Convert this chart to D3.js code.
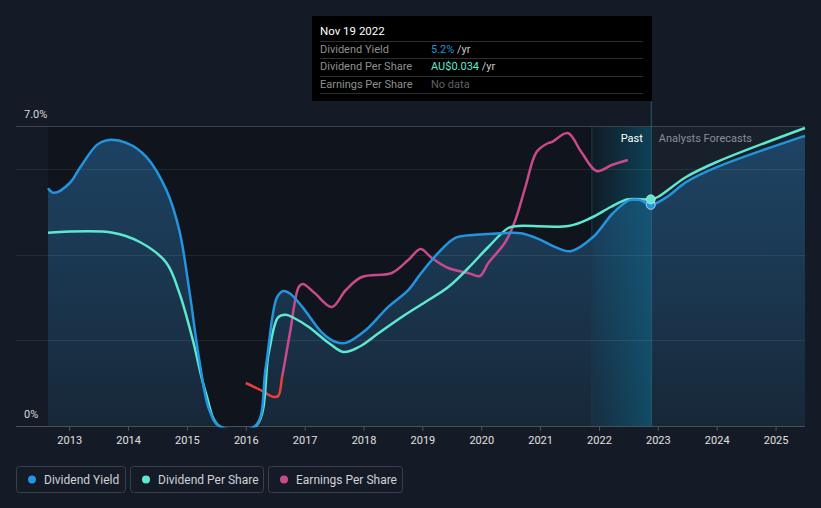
<!DOCTYPE html>
<html><head><meta charset="utf-8">
<script src="https://cdn.jsdelivr.net/npm/d3@7"></script>
<style>
html,body{margin:0;padding:0;background:#151b26;}
svg{display:block;font-family:Roboto,"Open Sans",sans-serif;}
</style></head>
<body>
<svg id="c" width="821" height="508"></svg>
<script>
// ---- data ----
const yearTicks = [2013,2014,2015,2016,2017,2018,2019,2020,2021,2022,2023,2024,2025];
const yLabels = [{v:7,t:"7.0%"},{v:0,t:"0%"}];
const gridValues = [0,2,4,6,7];
// Dividend Yield (%)  [year, value]
const dividendYield = [[2012.64,5.55],[2012.74,5.44],[2013.01,5.67],[2013.18,6.02],[2013.47,6.56],[2013.64,6.67],[2013.98,6.60],[2014.31,6.28],[2014.65,5.51],[2014.87,4.57],[2015.04,3.17],[2015.21,1.54],[2015.38,0.37],[2015.55,0],[2016.16,0],[2016.34,1.38],[2016.53,3.0],[2016.64,3.15],[2016.76,3.08],[2016.96,2.78],[2017.3,2.17],[2017.53,1.96],[2017.7,1.94],[2018.04,2.24],[2018.42,2.78],[2018.76,3.17],[2018.98,3.57],[2019.27,4.04],[2019.56,4.39],[2019.9,4.46],[2020.34,4.5],[2020.68,4.5],[2021.0,4.35],[2021.25,4.18],[2021.52,4.08],[2021.9,4.41],[2022.24,4.97],[2022.52,5.27],[2022.7,5.27],[2022.88,5.16],[2023.15,5.34],[2023.48,5.69],[2024.0,6.04],[2025.5,6.77]];
// Dividend Per Share (AU$)
const dividendPerShare = [[2012.64,0.029],[2013.74,0.029],[2014.2,0.0276],[2014.65,0.0245],[2014.87,0.020],[2015.1,0.0129],[2015.32,0.005],[2015.55,0],[2016.17,0],[2016.39,0.011],[2016.55,0.0163],[2016.68,0.0167],[2016.82,0.0162],[2017.07,0.01485],[2017.41,0.01245],[2017.66,0.0111],[2017.92,0.01185],[2018.26,0.01395],[2018.65,0.01635],[2019.05,0.0186],[2019.44,0.02085],[2019.78,0.0237],[2020.12,0.02685],[2020.46,0.0297],[2020.63,0.030],[2021.48,0.030],[2021.86,0.0312],[2022.2,0.03285],[2022.49,0.034],[2022.88,0.034],[2023.0,0.03435],[2023.48,0.03735],[2024.0,0.0396],[2025.5,0.0447]];
// Earnings Per Share (AU$)
const earningsPerShare = [[2016.0,-0.0014],[2016.25,-0.0028],[2016.47,-0.0042],[2016.55,-0.004],[2016.62,0.0],[2016.75,0.0086],[2016.9,0.0178],[2016.97,0.0184],[2017.17,0.0166],[2017.46,0.0138],[2017.7,0.0172],[2017.97,0.0198],[2018.48,0.0206],[2018.76,0.0232],[2018.97,0.0254],[2019.16,0.0236],[2019.44,0.0216],[2019.78,0.0206],[2019.98,0.0200],[2020.12,0.0226],[2020.41,0.0268],[2020.58,0.0312],[2020.75,0.0378],[2020.94,0.0448],[2021.14,0.0466],[2021.2,0.0468],[2021.47,0.0486],[2021.7,0.0448],[2021.96,0.041],[2022.22,0.0422],[2022.49,0.0432]];
const hoverYear = 2022.88;
const pastStart = 2021.88;
const tooltipDate = "Nov 19 2022";
const tooltipRows = [
  {label:"Dividend Yield", value:"5.2%", unit:" /yr", color:"#2394df"},
  {label:"Dividend Per Share", value:"AU$0.034", unit:" /yr", color:"#5ee8cf"},
  {label:"Earnings Per Share", value:"No data", unit:"", color:"#5d6168"}
];
const legendItems = [
  {name:"Dividend Yield", color:"#2394df"},
  {name:"Dividend Per Share", color:"#5ee8cf"},
  {name:"Earnings Per Share", color:"#c94a8a"}
];

// ---- layout ----
const svg = d3.select("#c");
const plotL = 48, plotR = 805, plotT = 126, plotB = 426, gridL = 16;
const x = d3.scaleLinear().domain([2012.64, 2025.5]).range([plotL, plotR]);
const y = d3.scaleLinear().domain([0, 7]).range([plotB, plotT]);
const yDps = d3.scaleLinear().domain([0, 0.045]).range([plotB, plotT]);
const yEps = d3.scaleLinear().domain([-0.01, 0.05]).range([plotB, plotT]);
const curve = d3.curveCatmullRom.alpha(0.5);

const defs = svg.append("defs");
const ag = defs.append("linearGradient").attr("id","areaG").attr("x1",0).attr("y1",0).attr("x2",0).attr("y2",1);
ag.append("stop").attr("offset","0%").attr("stop-color","#1f4a6e").attr("stop-opacity",0.85);
ag.append("stop").attr("offset","100%").attr("stop-color","#172737").attr("stop-opacity",1);
const bg = defs.append("linearGradient").attr("id","bandG").attr("x1",0).attr("y1",0).attr("x2",1).attr("y2",0);
bg.append("stop").attr("offset","0%").attr("stop-color","#0c6e90").attr("stop-opacity",0.08);
bg.append("stop").attr("offset","100%").attr("stop-color","#0c6e90").attr("stop-opacity",0.5);
defs.append("clipPath").attr("id","plotClip").append("rect").attr("x",plotL-4).attr("y",0).attr("width",plotR-plotL+8).attr("height",plotB+1.2);

// background regions
svg.append("rect").attr("x",0).attr("y",0).attr("width",821).attr("height",508).attr("fill","#151b26");
svg.append("rect").attr("x",plotL).attr("y",plotT).attr("width",x(hoverYear)-plotL).attr("height",plotB-plotT).attr("fill","#10141c");
svg.append("rect").attr("x",x(hoverYear)).attr("y",plotT).attr("width",plotR-x(hoverYear)).attr("height",plotB-plotT).attr("fill","#18202c");

// area under dividend yield
const area = d3.area().x(d=>x(d[0])).y0(plotB).y1(d=>Math.min(plotB, y(d[1]))).curve(curve);
svg.append("g").attr("clip-path","url(#plotClip)").append("path").datum(dividendYield).attr("d",area).attr("fill","url(#areaG)");

// band
svg.append("rect").attr("x",x(pastStart)).attr("y",plotT).attr("width",x(hoverYear)-x(pastStart)).attr("height",plotB-plotT).attr("fill","url(#bandG)");
svg.append("line").attr("x1",x(pastStart)).attr("x2",x(pastStart)).attr("y1",plotT).attr("y2",plotB).attr("stroke","#1e3a4c").attr("stroke-width",1);

// grid
svg.append("g").selectAll("line").data(gridValues.filter(v=>v>0)).join("line")
  .attr("x1",gridL).attr("x2",plotR).attr("y1",d=>Math.round(y(d))+0.5).attr("y2",d=>Math.round(y(d))+0.5)
  .attr("stroke",d=>d===7?"#3c424c":"#ffffff").attr("stroke-opacity",d=>d===7?1:0.08);

// x axis
const xa = svg.append("g").attr("transform",`translate(0,${plotB})`)
  .call(d3.axisBottom(x).tickValues(yearTicks).tickFormat(d3.format("d")).tickSize(5).tickSizeOuter(0));
xa.select(".domain").attr("d",`M${gridL},0.5H${plotR}`).attr("stroke","#4a505a");
xa.selectAll(".tick line").attr("stroke","#4a505a");
xa.selectAll(".tick text").attr("fill","#e0e0e0").attr("font-size",11).attr("dy","0.9em").attr("font-family","Roboto, sans-serif");

// y labels
svg.append("g").selectAll("text").data(yLabels).join("text")
  .attr("x",24).attr("y",d=>y(d.v)-8).attr("fill","#d8d8d8").attr("font-size",11).text(d=>d.t);

// hover line
svg.append("line").attr("x1",x(hoverYear)+0.5).attr("x2",x(hoverYear)+0.5).attr("y1",100).attr("y2",plotB)
  .attr("stroke","#2f7590").attr("stroke-opacity",0.7).attr("stroke-width",1);

// lines
const lineY = d3.line().x(d=>x(d[0])).y(d=>y(d[1])).curve(curve);
const lineD = d3.line().x(d=>x(d[0])).y(d=>yDps(d[1])).curve(curve);
const lineE = d3.line().x(d=>x(d[0])).y(d=>yEps(d[1])).curve(curve);

defs.append("clipPath").attr("id","posClip").append("rect").attr("x",0).attr("y",0).attr("width",821).attr("height",yEps(0));
defs.append("clipPath").attr("id","negClip").append("rect").attr("x",0).attr("y",yEps(0)).attr("width",821).attr("height",508-yEps(0));

svg.append("path").datum(earningsPerShare).attr("d",lineE).attr("fill","none").attr("stroke","#c94a8a").attr("stroke-width",2.5).attr("clip-path","url(#posClip)");
svg.append("path").datum(earningsPerShare).attr("d",lineE).attr("fill","none").attr("stroke","#e8413c").attr("stroke-width",2.5).attr("clip-path","url(#negClip)");
const lg2 = svg.append("g").attr("clip-path","url(#plotClip)");
lg2.append("path").datum(dividendPerShare).attr("d",lineD).attr("fill","none").attr("stroke","#5ee8cf").attr("stroke-width",2.5);
lg2.append("path").datum(dividendYield).attr("d",lineY).attr("fill","none").attr("stroke","#2394df").attr("stroke-width",2.5);

// hover dots
const hy = dividendYield.find(d=>d[0]===hoverYear)[1];
const hd = dividendPerShare.find(d=>d[0]===hoverYear)[1];
svg.append("circle").attr("cx",x(hoverYear)).attr("cy",y(hy)).attr("r",4.5).attr("fill","#2394df").attr("stroke","#d0e4ee").attr("stroke-width",0.8);
svg.append("circle").attr("cx",x(hoverYear)).attr("cy",yDps(hd)).attr("r",4.5).attr("fill","#5ee8cf").attr("stroke","#d0e4ee").attr("stroke-width",0.8);

// Past / forecasts labels
svg.append("text").attr("x",x(hoverYear)-8).attr("y",142).attr("text-anchor","end").attr("fill","#ffffff").attr("font-size",11).text("Past");
svg.append("text").attr("x",x(hoverYear)+8).attr("y",142).attr("fill","#8a8f96").attr("font-size",11).text("Analysts Forecasts");

// tooltip
const tt = svg.append("g");
tt.append("rect").attr("x",312).attr("y",16).attr("width",340).attr("height",85).attr("fill","#000");
tt.append("text").attr("x",320).attr("y",35).attr("fill","#fff").attr("font-size",11.5).text(tooltipDate);
[41,58,76,93].forEach(yy=>tt.append("line").attr("x1",320).attr("x2",643).attr("y1",yy+0.5).attr("y2",yy+0.5).attr("stroke","#2e2e2e"));
tooltipRows.forEach((r,i)=>{
  const yy = 52.5 + i*17.7;
  tt.append("text").attr("x",320).attr("y",yy).attr("fill","#8f8f8f").attr("font-size",11).text(r.label);
  const t = tt.append("text").attr("x",431).attr("y",yy).attr("font-size",11);
  t.append("tspan").attr("fill",r.color).text(r.value);
  t.append("tspan").attr("fill","#c8c8c8").text(r.unit);
});

// legend
const boxes = [{x:16.5,w:109},{x:130.5,w:133},{x:268.5,w:134}];
const lg = svg.append("g");
legendItems.forEach((d,i)=>{
  const b = boxes[i];
  lg.append("rect").attr("x",b.x).attr("y",466.5).attr("width",b.w).attr("height",26).attr("rx",3)
    .attr("fill","none").attr("stroke","#3a404a");
  lg.append("circle").attr("cx",b.x+15.5).attr("cy",479.5).attr("r",4).attr("fill",d.color);
  lg.append("text").attr("x",b.x+27.5).attr("y",483.5).attr("fill","#cfd2d6").attr("font-size",12).text(d.name);
});
</script>
</body></html>
